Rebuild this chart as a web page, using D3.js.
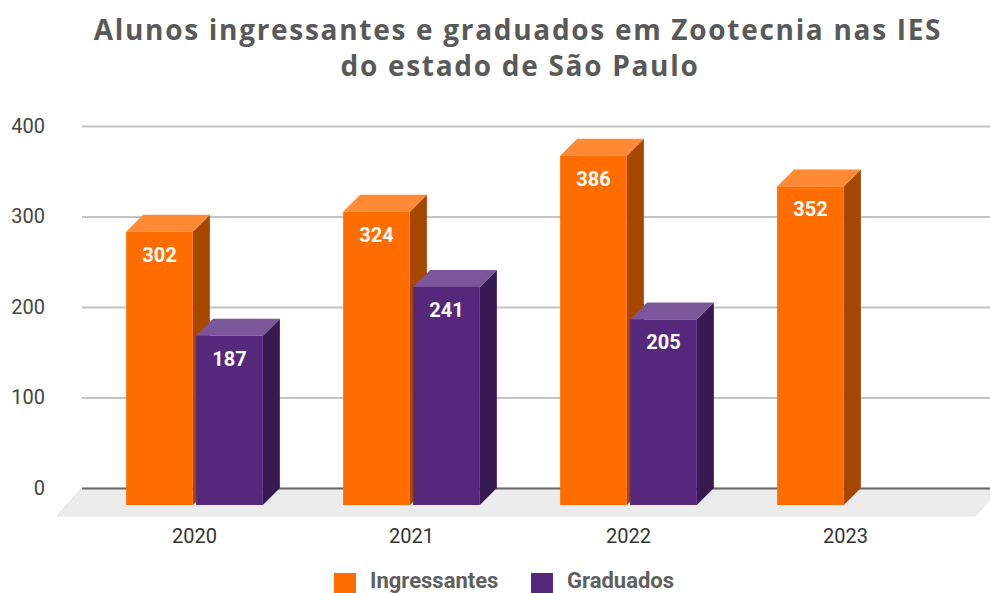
<!DOCTYPE html>
<html>
<head>
<meta charset="utf-8">
<script src="https://cdn.jsdelivr.net/npm/d3@7"></script>
<style>
  body { margin: 0; background: #fff; }
  svg { display: block; }
</style>
</head>
<body>
<svg id="svg" width="990" height="593"></svg>
<script>
const years = ['2020', '2021', '2022', '2023']
const series = ['Ingressantes', 'Graduados']
const ingressantes = [302, 324, 386, 352]
const graduados = [187, 241, 205, null]
const yTicks = [0, 100, 200, 300, 400]

const width = 990
const height = 593
const depth = 17

const colours = {
  Ingressantes: { front: '#ff6d01', top: '#ff8a36', side: '#a64700' },
  Graduados: { front: '#55287c', top: '#7b569b', side: '#371a51' }
}

const svg = d3.select('#svg')

const xScale = d3.scaleBand()
  .domain(years)
  .range([86, 954])
  .paddingInner(0.37)
  .paddingOuter(0.185)

const xInner = d3.scaleBand()
  .domain(series)
  .range([0, xScale.bandwidth()])
  .paddingInner(0.047)

const yScale = d3.scaleLinear()
  .domain([0, 400])
  .range([488, 126])

// title
const title = svg.append('text')
  .attr('text-anchor', 'middle')
  .attr('font-family', 'Open Sans, sans-serif')
  .attr('font-weight', 'bold')
  .attr('font-size', 28)
  .attr('letter-spacing', 1.7)
  .attr('fill', '#595959')
title.append('tspan').attr('x', 518).attr('y', 40).text('Alunos ingressantes e graduados em Zootecnia nas IES')
title.append('tspan').attr('x', 520).attr('y', 76).text('do estado de São Paulo')

// floor
const y0 = yScale(0)
svg.append('path')
  .attr('d', `M82,${y0} L${width},${y0} L${width},500 L975,516 L57,516 Z`)
  .attr('fill', '#ececec')
  .attr('stroke', '#e2e2e2')

// gridlines
const yAxis = d3.axisLeft(yScale)
  .tickValues(yTicks)
  .tickSize(-(width - 82))
  .tickPadding(37)
  .tickFormat(d3.format('d'))

const yAxisG = svg.append('g')
  .attr('transform', 'translate(82, 0)')
  .call(yAxis)
yAxisG.select('.domain').remove()
yAxisG.selectAll('.tick line')
  .attr('stroke', d => d === 0 ? '#666' : '#c4c4c4')
  .attr('stroke-width', 2)
yAxisG.selectAll('.tick text')
  .attr('font-family', 'Roboto, sans-serif')
  .attr('font-size', 20)
  .attr('fill', '#444')
  .attr('dy', '0.3em')

// bars
const barData = []
years.forEach((year, i) => {
  barData.push({ year, key: 'Ingressantes', value: ingressantes[i] })
  if (graduados[i] != null) barData.push({ year, key: 'Graduados', value: graduados[i] })
})

const barGroup = svg.append('g')
const bars = barGroup.selectAll('g')
  .data(barData)
  .enter()
  .append('g')

const bx = d => xScale(d.year) + xInner(d.key)
const bw = xInner.bandwidth()
const frontTop = d => yScale(d.value) + depth
const frontBottom = y0 + depth

bars.append('path')
  .attr('d', d => {
    const x = bx(d) + bw
    return `M${x},${frontTop(d)} L${x + depth},${frontTop(d) - depth} L${x + depth},${frontBottom - depth} L${x},${frontBottom} Z`
  })
  .attr('fill', d => colours[d.key].side)

bars.append('path')
  .attr('d', d => {
    const x = bx(d)
    const t = frontTop(d)
    return `M${x},${t} L${x + depth},${t - depth} L${x + bw + depth},${t - depth} L${x + bw},${t} Z`
  })
  .attr('fill', d => colours[d.key].top)

bars.append('rect')
  .attr('x', bx)
  .attr('y', frontTop)
  .attr('width', bw)
  .attr('height', d => frontBottom - frontTop(d))
  .attr('fill', d => colours[d.key].front)

bars.append('text')
  .attr('x', d => bx(d) + bw / 2)
  .attr('y', d => frontTop(d) + 30)
  .attr('text-anchor', 'middle')
  .attr('font-family', 'Roboto, sans-serif')
  .attr('font-weight', 'bold')
  .attr('font-size', 20)
  .attr('fill', '#fff')
  .text(d => d.value)

// x axis labels
const xAxis = d3.axisBottom(xScale).tickSize(0).tickPadding(0)
const xAxisG = svg.append('g')
  .attr('transform', 'translate(0, 524)')
  .call(xAxis)
xAxisG.select('.domain').remove()
xAxisG.selectAll('.tick text')
  .attr('font-family', 'Roboto, sans-serif')
  .attr('font-size', 20)
  .attr('fill', '#333')
  .attr('dy', '0.95em')

// legend
const legendPos = [334, 531]
const legend = svg.append('g')
  .selectAll('g')
  .data(series)
  .enter()
  .append('g')
  .attr('transform', (d, i) => `translate(${legendPos[i]}, 573)`)

legend.append('rect')
  .attr('width', 22)
  .attr('height', 20)
  .attr('fill', d => colours[d].front)

legend.append('text')
  .attr('x', 36)
  .attr('y', 15)
  .attr('font-family', 'Roboto, sans-serif')
  .attr('font-weight', 'bold')
  .attr('font-size', 22)
  .attr('fill', '#5f5f5f')
  .text(d => d)
</script>
</body>
</html>
